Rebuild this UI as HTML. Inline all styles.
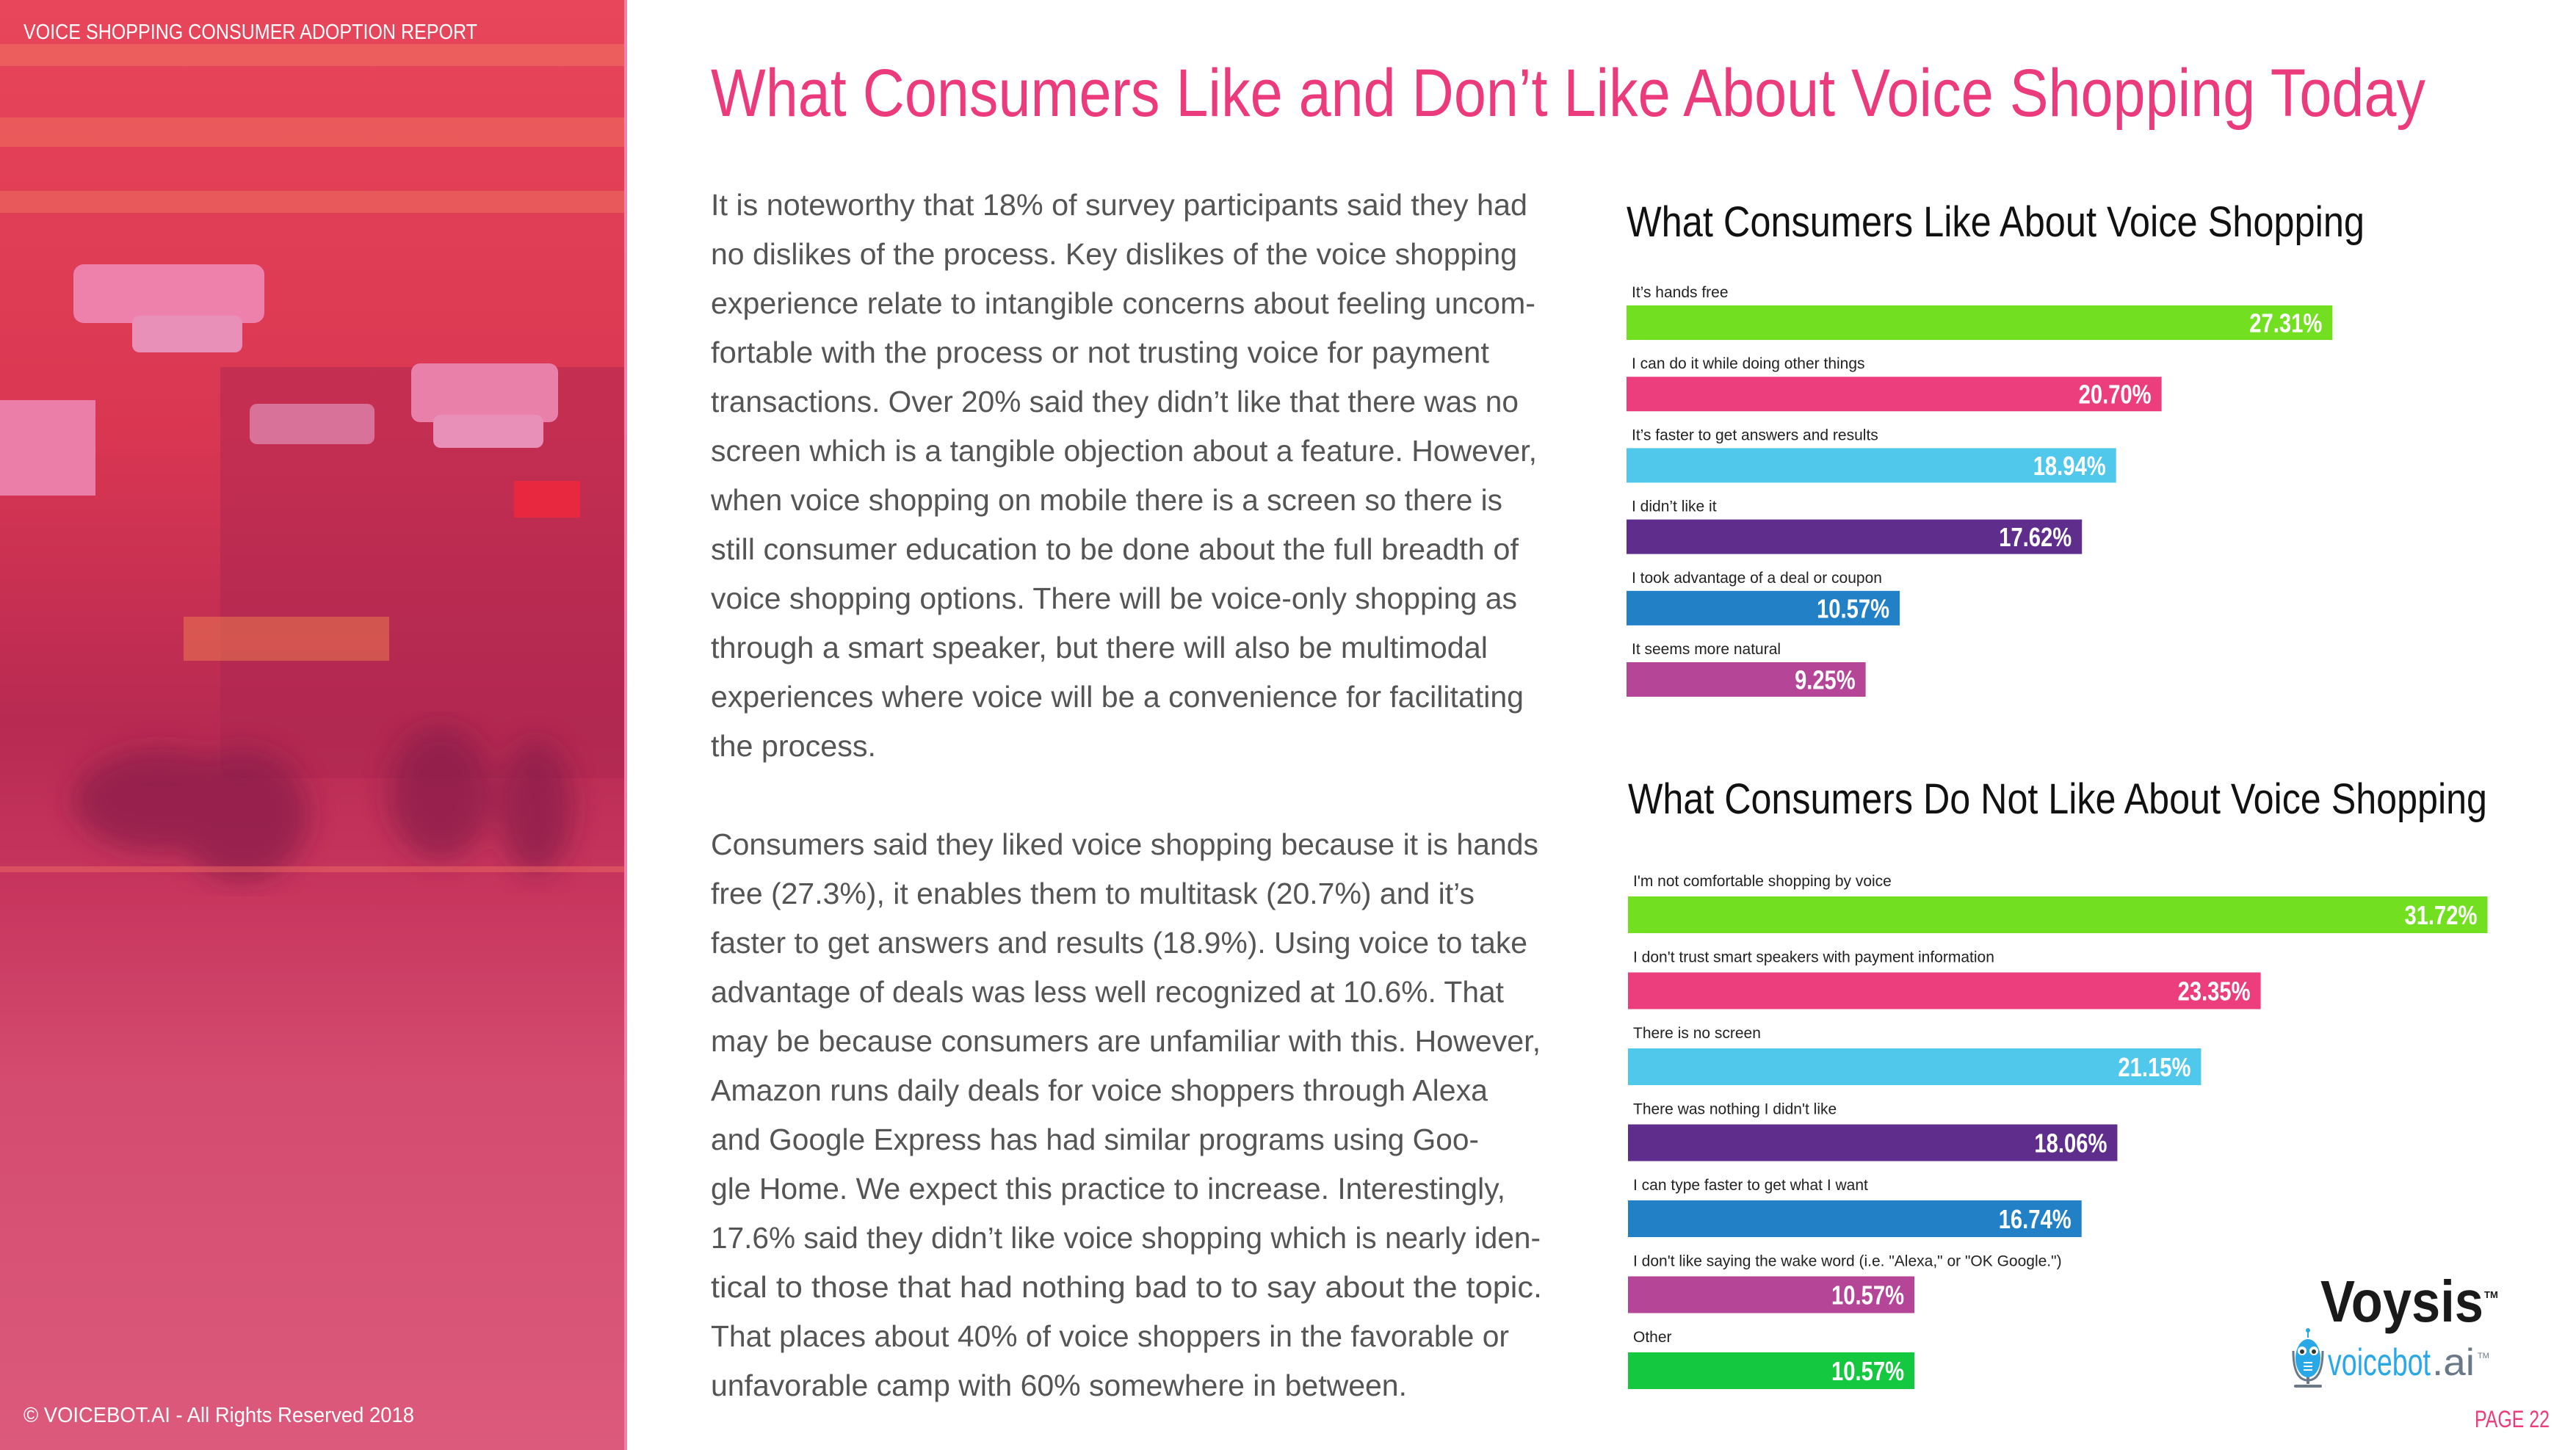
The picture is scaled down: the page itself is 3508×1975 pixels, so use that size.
<!DOCTYPE html>
<html><head><meta charset="utf-8"><style>
html,body{margin:0;padding:0;background:#fff;}
body{width:3508px;height:1975px;overflow:hidden;position:relative;font-family:"Liberation Sans",sans-serif;}
svg{position:absolute;left:0;top:0;}
</style></head><body>
<svg width="3508" height="1975" viewBox="0 0 3508 1975">
<defs>
<linearGradient id="bg" x1="0" y1="0" x2="0" y2="1">
<stop offset="0" stop-color="#e8465a"/><stop offset="0.3" stop-color="#d93652"/><stop offset="0.5" stop-color="#b82a52"/><stop offset="0.62" stop-color="#c8365e"/><stop offset="0.75" stop-color="#d44c70"/><stop offset="1" stop-color="#dc5a7c"/>
</linearGradient>
<filter id="blur"><feGaussianBlur stdDeviation="18"/></filter>
</defs>
<g>
<rect x="0" y="0" width="852" height="1975" fill="url(#bg)"/>
<rect x="0" y="60" width="852" height="30" fill="#f07462" opacity="0.55"/>
<rect x="0" y="160" width="852" height="40" fill="#f27a62" opacity="0.45"/>
<rect x="0" y="260" width="852" height="30" fill="#f07a60" opacity="0.45"/>
<rect x="300" y="500" width="552" height="560" fill="#a82650" opacity="0.45"/>
<rect x="100" y="360" width="260" height="80" rx="14" fill="#ee80ac"/>
<rect x="180" y="430" width="150" height="50" rx="10" fill="#e890b8"/>
<rect x="560" y="495" width="200" height="80" rx="12" fill="#e880aa"/>
<rect x="590" y="565" width="150" height="45" rx="10" fill="#e890b8"/>
<rect x="0" y="545" width="130" height="130" fill="#ec86b2" opacity="0.9"/>
<rect x="340" y="550" width="170" height="55" rx="10" fill="#e08ab0" opacity="0.75"/>
<rect x="700" y="655" width="90" height="50" fill="#e8283e"/>
<rect x="250" y="840" width="280" height="60" fill="#f08050" opacity="0.5"/>
<g filter="url(#blur)" opacity="0.75">
<ellipse cx="220" cy="1090" rx="120" ry="70" fill="#8a1c48"/>
<ellipse cx="330" cy="1110" rx="90" ry="90" fill="#8a1c48"/>
<ellipse cx="600" cy="1080" rx="70" ry="90" fill="#8a1c48"/>
<ellipse cx="730" cy="1100" rx="50" ry="90" fill="#8a1c48"/>
</g>
<rect x="0" y="1180" width="852" height="8" fill="#ee6a62" opacity="0.5"/>
</g>
<rect x="850" y="0" width="4" height="1975" fill="#f080a8"/>
<text x="32" y="53" font-size="29" fill="#fff" textLength="618" lengthAdjust="spacingAndGlyphs">VOICE SHOPPING CONSUMER ADOPTION REPORT</text>
<text x="32" y="1937" font-size="29" fill="#fff" textLength="532" lengthAdjust="spacingAndGlyphs">© VOICEBOT.AI - All Rights Reserved 2018</text>

<text x="968" y="158" font-size="92" fill="#ec3b7c" textLength="2335" lengthAdjust="spacingAndGlyphs">What Consumers Like and Don’t Like About Voice Shopping Today</text>

<g font-size="41" fill="#555" id="body"></g>

<g id="chart1"></g>
<g id="chart2"></g>

<g>
<text x="3160" y="1800" font-size="80" font-weight="bold" fill="#1a1a1a" textLength="222" lengthAdjust="spacingAndGlyphs">Voysis</text>
<text x="3383" y="1768" font-size="13" font-weight="bold" fill="#1a1a1a">TM</text>
</g>
<g transform="translate(-16,0)">
<rect x="3157" y="1845" width="4" height="40" fill="#6a7888"/>
<path d="M3139 1840 Q3139 1880 3159 1880 Q3179 1880 3179 1840" fill="none" stroke="#6a7888" stroke-width="3"/>
<rect x="3140" y="1886" width="38" height="4" rx="2" fill="#6a7888"/>
<ellipse cx="3159" cy="1850" rx="17" ry="26" fill="#29a8e8"/>
<circle cx="3159" cy="1812" r="3" fill="#29a8e8"/>
<rect x="3158" y="1812" width="2" height="10" fill="#29a8e8"/>
<circle cx="3151" cy="1840" r="6" fill="#fff"/><circle cx="3167" cy="1840" r="6" fill="#fff"/>
<circle cx="3151" cy="1841" r="3" fill="#333"/><circle cx="3167" cy="1841" r="3" fill="#333"/>
<rect x="3153" y="1855" width="12" height="2" fill="#fff"/><rect x="3153" y="1860" width="12" height="2" fill="#fff"/><rect x="3153" y="1865" width="12" height="2" fill="#fff"/>
<text x="3186" y="1873" font-size="52" fill="#29a8e8" textLength="140" lengthAdjust="spacingAndGlyphs">voicebot</text>
<text x="3328" y="1873" font-size="52" fill="#6a7888" textLength="58" lengthAdjust="spacingAndGlyphs">.ai</text>
<text x="3390" y="1850" font-size="11" fill="#6a7888">TM</text>
</g>
<text x="3370" y="1944" font-size="32" fill="#ec3b7c" textLength="102" lengthAdjust="spacingAndGlyphs">PAGE 22</text>
</svg>
<script>
const NS='http://www.w3.org/2000/svg';
function mk(tag,attrs,parent,text){const e=document.createElementNS(NS,tag);for(const k in attrs)e.setAttribute(k,attrs[k]);if(text!==undefined)e.textContent=text;parent.appendChild(e);return e;}

const para1=["It is noteworthy that 18% of survey participants said they had","no dislikes of the process. Key dislikes of the voice shopping","experience relate to intangible concerns about feeling uncom-","fortable with the process or not trusting voice for payment","transactions. Over 20% said they didn’t like that there was no","screen which is a tangible objection about a feature. However,","when voice shopping on mobile there is a screen so there is","still consumer education to be done about the full breadth of","voice shopping options. There will be voice-only shopping as","through a smart speaker, but there will also be multimodal","experiences where voice will be a convenience for facilitating","the process."];
const para1W=[1112,1098,1123,1060,1100,1125,1078,1100,1098,1058,1107,225];
const para2=["Consumers said they liked voice shopping because it is hands","free (27.3%), it enables them to multitask (20.7%) and it’s","faster to get answers and results (18.9%). Using voice to take","advantage of deals was less well recognized at 10.6%. That","may be because consumers are unfamiliar with this. However,","Amazon runs daily deals for voice shoppers through Alexa","and Google Express has had similar programs using Goo-","gle Home. We expect this practice to increase. Interestingly,","17.6% said they didn’t like voice shopping which is nearly iden-","tical to those that had nothing bad to to say about the topic.","That places about 40% of voice shoppers in the favorable or","unfavorable camp with 60% somewhere in between."];
const para2W=[1127,1040,1112,1080,1130,1058,1046,1082,1130,1132,1087,948];
const body=document.getElementById('body');
para1.forEach((t,i)=>{const e=mk('text',{x:968,y:293+i*67,textLength:para1W[i],lengthAdjust:'spacingAndGlyphs'},body,t);

});
para2.forEach((t,i)=>{const e=mk('text',{x:968,y:1164+i*67,textLength:para2W[i],lengthAdjust:'spacingAndGlyphs'},body,t);

});

const likeCats=["It’s hands free","I can do it while doing other things","It’s faster to get answers and results","I didn’t like it","I took advantage of a deal or coupon","It seems more natural"];
const likeVals=[27.31,20.70,18.94,17.62,10.57,9.25];
const likeLabels=["27.31%","20.70%","18.94%","17.62%","10.57%","9.25%"];
const dislikeCats=["I'm not comfortable shopping by voice","I don't trust smart speakers with payment information","There is no screen","There was nothing I didn't like","I can type faster to get what I want","I don't like saying the wake word (i.e. \"Alexa,\" or \"OK Google.\")","Other"];
const dislikeVals=[31.72,23.35,21.15,18.06,16.74,10.57,10.57];
const dislikeLabels=["31.72%","23.35%","21.15%","18.06%","16.74%","10.57%","10.57%"];
const colors=["#72e021","#ec3d7c","#4fc8ec","#5f2d8c","#2180c6","#b44597","#14c840"];

function drawChart(g,title,titleY,titleW,cats,vals,labels,x0,pxPer,y0,step,h,labelOff){
  const t=mk('text',{x:x0,y:titleY,'font-size':58,fill:'#111',textLength:titleW,lengthAdjust:'spacingAndGlyphs'},g,title);
  
  
  const xs=v=>v*pxPer;
  cats.forEach((c,i)=>{
    const y=y0+i*step;
    const lb=mk('text',{x:x0+7,y:y-labelOff,'font-size':21,fill:'#222'},g,c);
    
    
    const w=xs(vals[i]);
    const r=mk('rect',{x:x0,y:y,width:w,height:h,fill:colors[i]},g);
    
    
    const lw=labels[i].length*16.5;
    const v=mk('text',{x:x0+w-14,y:y+h/2+13,'font-size':36,'font-weight':'bold',fill:'#fff','text-anchor':'end',textLength:lw,lengthAdjust:'spacingAndGlyphs'},g,labels[i]);
    
    
  });
}
drawChart(document.getElementById('chart1'),"What Consumers Like About Voice Shopping",322,1005,likeCats,likeVals,likeLabels,2215,35.2,416,97.2,47,11);
drawChart(document.getElementById('chart2'),"What Consumers Do Not Like About Voice Shopping",1108,1170,dislikeCats,dislikeVals,dislikeLabels,2217,36.9,1221,103.5,50,14);
</script>
</body></html>
